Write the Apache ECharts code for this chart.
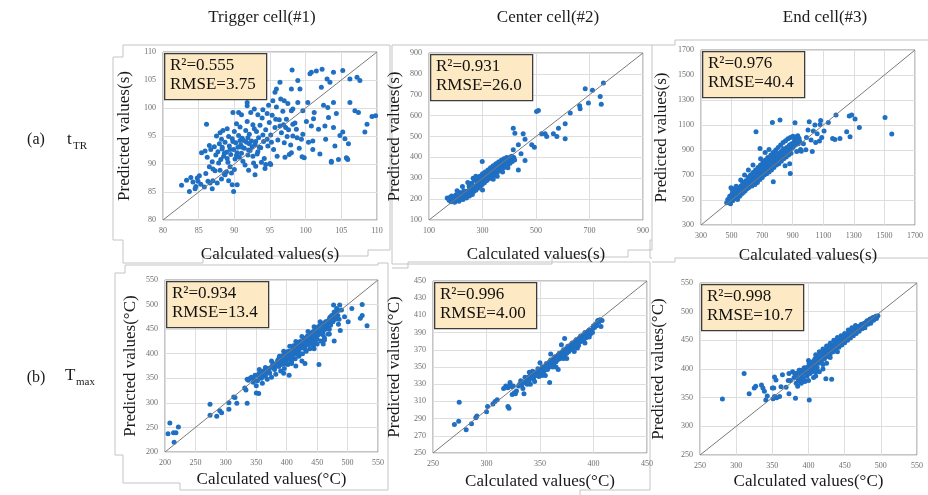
<!DOCTYPE html>
<html><head><meta charset="utf-8">
<script src="https://cdn.jsdelivr.net/npm/echarts@6/dist/echarts.min.js"></script>
<style>html,body{margin:0;padding:0;background:#fff}#c{width:928px;height:495px}</style>
</head><body><div id="c"></div>
<script>
const colTitles = ['Trigger cell(#1)', 'Center cell(#2)', 'End cell(#3)'];
const xNames = ['Calculated values(s)', 'Calculated values(s)', 'Calculated values(s)', 'Calculated values(°C)', 'Calculated values(°C)', 'Calculated values(°C)'];
const yNames = ['Predicted values(s)', 'Predicted values(s)', 'Predicted values(s)', 'Predicted values(°C)', 'Predicted values(°C)', 'Predicted values(°C)'];
const axMin = [80, 100, 300, 200, 250, 250];
const axMax = [110, 900, 1700, 550, 450, 550];
const xStep = [5, 200, 200, 50, 50, 50];
const yStep = [5, 100, 200, 50, 20, 50];
const r2 = ['0.555', '0.931', '0.976', '0.934', '0.996', '0.998'];
const rmse = ['3.75', '26.0', '40.4', '13.4', '4.00', '10.7'];

// Trigger cell, t_TR
const p1 = [[82.6,86.2],[83.3,87.1],[83.7,85.1],[84.6,86.0],[84.8,87.5],[86.1,97.1],[86.6,86.6],[85.4,92.0],[88.7,88.4],[88.7,88.1],[89.9,85.1],[89.7,86.3],[90.4,86.3],[89.8,99.2],[90.6,99.2],[91.8,100.4],[92.8,99.8],[91.8,101.0],[92.9,88.1],[94.4,89.9],[95.1,89.9],[95.7,102.8],[95.9,103.4],[96.4,104.6],[98.1,106.8],[98.0,103.4],[98.9,104.9],[99.2,103.4],[100.6,106.1],[100.8,106.4],[101.5,106.6],[102.3,106.9],[103.9,106.4],[105.2,106.7],[102.2,103.7],[103.0,105.2],[103.4,104.6],[106.2,105.2],[107.2,105.5],[107.6,104.9],[103.9,101.0],[106.2,101.0],[106.9,99.5],[107.4,99.2],[109.3,98.5],[109.8,98.6],[108.6,97.1],[108.3,95.7],[103.1,100.1],[101.1,98.1],[100.8,96.8],[102.7,96.8],[103.9,96.5],[105.2,95.7],[105.5,94.5],[104.1,93.2],[102.8,94.4],[101.0,94.1],[101.0,92.6],[99.8,91.1],[97.7,91.7],[103.6,90.3],[104.6,90.8],[105.7,91.1],[105.9,90.8],[99.4,94.4],[98.7,96.2],[98.2,97.1],[97.2,96.5],[99.6,99.5],[100.3,101.0],[98.9,101.0],[98.0,99.5],[98.2,99.8],[97.0,101.3],
[83.9,87.6],[84.2,86.8],[84.5,85.6],[84.9,86.9],[85.3,86.4],[85.8,85.9],[85.1,87.9],[86.0,88.3],[86.3,86.9],[86.9,85.6],[86.5,89.5],[87.0,87.0],[87.3,88.8],[87.6,86.6],[88.2,87.3],[88.0,88.9],[88.6,88.2],[88.9,88.6],[89.2,87.0],[89.6,88.4],
[85.9,92.3],[86.2,91.2],[86.7,92.6],[86.9,90.4],[87.2,93.1],[87.4,91.6],[87.7,92.2],[87.9,93.6],[88.1,90.8],[88.3,92.7],[88.5,91.4],[88.7,93.9],[88.9,92.1],[89.1,90.3],[89.3,93.2],[89.5,91.7],[89.7,94.5],[89.9,92.6],[90.1,90.9],[90.2,93.8],[90.4,92.0],[90.6,95.1],[90.7,91.2],[90.9,93.4],[91.1,94.6],[91.2,90.5],[91.4,92.8],[91.6,96.0],[91.7,93.9],[91.9,91.6],[92.1,95.3],[92.2,92.4],[92.4,94.1],[92.6,97.0],[92.7,90.2],[92.9,93.5],[93.1,95.8],[93.2,91.8],[93.4,94.7],[93.6,96.9],[93.7,92.9],[93.9,98.2],[94.1,94.0],[94.2,91.0],[94.4,96.1],[94.6,99.0],[94.7,93.2],[94.9,97.4],[95.1,95.2],[95.3,98.7],[95.5,92.6],[95.7,96.5],[95.9,100.2],[96.1,94.3],[96.3,97.9],[96.6,95.6],[96.8,99.4],[97.0,93.8],[97.3,98.0],[97.6,96.1],[97.9,93.4],[98.2,95.0],[98.5,97.3],[98.8,94.7],[99.1,92.8],[99.6,95.3],[100.1,97.6],[100.4,93.9],[101.2,99.2],[101.8,96.2],[102.5,100.5],[103.2,98.3],[104.3,99.0],[104.8,95.1],[106.0,93.6],[105.8,91.0],[103.6,90.5],[102.0,91.8],[99.5,91.3],[98.0,92.0],
[86.5,93.3],[87.0,89.1],[88.0,95.6],[88.4,96.0],[89.0,96.3],[89.4,89.5],[90.0,89.0],[90.3,97.2],[90.8,96.6],[91.0,98.8],[91.5,89.8],[91.8,97.6],[92.0,88.9],[92.3,99.2],[92.8,96.3],[93.0,89.6],[93.3,98.8],[93.8,90.3],[94.0,99.7],[94.3,89.2],[94.8,100.5],[95.0,90.1],[95.4,101.3],[96.0,91.4],[96.5,101.6],[97.1,91.2],[97.5,100.8],[89.8,94.0],[91.3,94.2],[92.5,93.1],[93.5,93.0],[90.5,93.0],[91.0,91.9],[92.0,92.5],[89.0,91.0],[88.2,94.4],[87.5,95.0],[90.0,95.8],
[87.8,90.2],[88.6,91.9],[89.4,92.6],[90.3,91.5],[91.1,93.0],[91.9,94.7],[92.6,91.4],[93.3,92.2],[94.0,95.2],[94.6,94.4],[95.2,93.9],[95.8,98.0],[96.4,96.8],[96.9,97.0],[97.4,94.9],[88.3,93.0],[89.2,94.9],[90.8,94.2],[92.1,93.6],[93.0,94.0]];

// Center cell, t_TR
const p2 = [[168,205],[175,195],[180,210],[182,188],[186,200],[190,192],[193,205],[196,185],[200,198],[203,210],[206,195],[210,204],[212,190],[215,215],[218,200],[221,222],[224,208],[227,198],[230,218],[232,230],[235,212],[238,224],[240,205],[243,238],[246,220],[248,232],[251,215],[254,245],[256,228],[259,240],[262,222],[264,252],[267,236],[270,248],[272,262],[275,242],[278,258],[280,270],[283,252],[286,266],[288,280],[291,262],[294,275],[296,290],[299,270],[302,284],[304,298],[307,278],[310,292],[312,305],[315,288],[318,300],[320,312],[323,296],[326,310],[328,322],[331,304],[334,318],[336,330],[339,312],[342,326],[344,338],[347,320],[350,334],[352,345],[355,328],[358,342],[360,352],[363,336],[366,350],[368,360],[371,344],[374,356],[376,368],[379,350],[382,364],[384,375],[387,358],[390,372],[392,382],[395,366],[398,378],[400,390],[403,372],[406,386],[408,396],[411,380],[414,392],[417,400],[420,388],
[185,215],[200,220],[215,232],[230,240],[250,262],[260,276],[270,290],[280,300],[290,310],[300,322],[310,330],[320,340],[330,350],[340,360],[350,370],[360,378],[370,386],[380,394],[390,400],[250,230],[265,255],[285,285],[305,305],[325,330],[345,345],[365,365],[385,385],[205,240],[225,260],[245,280],[265,300],[275,310],[340,295],[355,310],[375,330],[395,350],
[192,198],[208,212],[222,215],[236,232],[252,250],[268,262],[282,278],[297,296],[313,318],[327,333],[341,348],[357,360],[372,375],[388,392],[404,402],[198,205],[257,262],[317,322],[378,382],[410,405],
[300,244],[299,380],[415,436],[434,460],[444,417],[459,385],[434,340],[415,540],[421,516],[452,513],[459,487],[484,460],[494,449],[502,620],[509,625],[521,513],[534,513],[540,500],[565,513],[578,500],[584,540],[609,561],[609,489],[628,612],[663,647],[665,633],[684,729],[696,660],[711,721],[740,692],[744,655],[752,756]];

// End cell, t_TR
const p3 = [[468,478],[475,505],[482,492],[488,530],[493,470],[498,522],[503,548],[507,495],[512,528],[517,590],[521,510],[526,560],[531,535],[536,575],[539,505],[544,550],[549,598],[553,530],[557,570],[561,612],[565,548],[569,585],[573,640],[577,560],[581,600],[585,628],[589,575],[593,655],[597,610],[601,590],[605,642],[609,680],[613,600],[617,660],[621,625],[625,700],[629,645],[633,612],[637,682],[641,720],[645,650],[649,690],[653,625],[657,740],[661,668],[665,705],[669,640],[673,760],[677,690],[681,725],[685,665],[689,780],[693,710],[697,745],[701,680],[705,800],[709,730],[713,700],[717,770],[721,820],[725,745],[729,710],[733,790],[737,840],[741,760],[745,725],[749,810],[753,775],[757,860],[761,740],[765,830],[769,795],[773,880],[777,760],[781,845],[785,810],[789,900],[793,780],[797,860],[801,825],[805,920],[809,790],[813,875],[817,840],[821,940],[825,810],[829,890],[833,855],[837,960],[841,830],[845,905],[849,870],[853,975],[857,845],[861,920],[865,885],[869,990],[873,860],[877,935],[881,900],[885,1000],[889,875],[893,950],[897,915],[901,1010],[905,930],[909,965],[913,985],[917,945],[921,1005],[925,960],[929,980],[933,1015],[937,950],[941,995],[946,970],[951,905],[956,890],
[880,790],[850,775],[690,830],[720,880],[745,905],[640,780],[610,740],[585,700],[560,660],[530,610],[505,580],[640,700],[700,760],[760,820],[820,880],[880,940],[680,700],[600,620],[550,560],[620,690],[660,735],[720,800],[780,860],[840,910],[795,870],[735,815],[675,750],[615,680],
[884,713],[773,647],[496,599],[660,1047],[686,913],[767,1121],[817,1140],[915,1119],[926,889],[986,903],[1008,1127],[1028,889],[1035,1052],[1045,1100],[1075,972],[1079,1105],[1083,1137],[1105,1052],[1133,1121],[1161,993],[1176,985],[1183,1180],[1209,993],[1253,1047],[1270,1172],[1275,1007],[1286,1180],[1308,1148],[1336,1081],[1504,1161],[1548,1028],[1000,1060],[1020,980],[1050,960],[1060,1030],[990,1000],[970,950],[1090,1000]];

// Trigger cell, T_max
const p4 = [[340,350],[345,342],[348,356],[352,345],[355,360],[358,350],[360,340],[362,365],[365,355],[368,348],[370,370],[372,360],[375,352],[377,378],[380,368],[382,358],[385,385],[387,374],[390,365],[392,392],[394,380],[396,370],[398,400],[400,388],[402,378],[404,405],[406,395],[408,384],[410,412],[412,400],[414,390],[416,418],[418,406],[420,395],[422,425],[424,412],[426,400],[428,430],[430,418],[432,405],[434,436],[436,424],[438,410],[440,442],[442,430],[444,416],[446,448],[448,435],[450,420],[452,455],[454,440],[456,426],[458,460],[460,446],[462,432],[464,465],[466,452],[468,440],[470,470],[472,458],[474,478],[476,465],[478,485],[480,470],[482,492],[484,478],[486,470],
[388,395],[395,405],[405,415],[415,425],[425,435],[435,445],[445,455],[455,465],[365,372],[375,385],[355,368],[400,380],[410,392],[420,402],[430,410],[440,420],[450,430],[460,438],[470,450],[378,380],[385,378],[392,386],[402,398],[412,408],[422,418],[432,428],[442,438],[452,448],[462,458],[472,465],[350,335],[360,352],[370,362],[380,372],[390,382],[400,395],[410,405],[420,412],[430,422],[440,432],[450,442],[460,452],[468,460],
[342,352],[346,348],[351,356],[356,352],[359,362],[363,358],[367,366],[371,364],[374,372],[378,374],[381,378],[384,376],[386,388],[389,386],[391,378],[393,396],[397,392],[399,384],[401,404],[403,392],[407,402],[409,396],[411,416],[413,406],[417,412],[419,422],[421,410],[423,420],[427,424],[429,414],[431,432],[433,422],[437,432],[439,426],[441,436],[443,444],[445,430],[447,440],[449,452],[451,438],[453,446],[455,458],[457,444],[459,452],[461,462],[463,450],[465,458],[467,466],[469,458],[471,474],[473,464],[475,470],[477,478],[479,476],[481,484],[483,474],[485,488],[446,425],[436,418],[426,412],[416,400],[406,388],[396,380],
[208,259],[205,237],[214,239],[222,251],[215,220],[218,239],[274,297],[274,275],[285,273],[290,284],[293,280],[305,300],[313,312],[315,311],[318,299],[305,287],[335,299],[333,326],[331,330],[350,320],[354,319],[335,348],[337,346],[404,356],[453,378],[408,380],[430,380],[448,421],[462,428],[478,426],[488,447],[507,492],[524,500],[532,457],[524,478],[521,472],[501,465],[487,499],[477,499],[490,489],[495,475],[485,460],[470,440],[460,420],[445,410],[425,385],[415,375],[395,360]];

// Center cell, T_max
const p5 = [[330,328],[332,334],[334,325],[336,338],[338,330],[340,335],[342,342],[344,336],[346,340],[348,348],[350,342],[352,350],[354,346],[356,354],[358,350],[360,358],[362,355],[364,362],[366,358],[368,366],[370,362],[372,370],[374,366],[376,374],[378,370],[380,378],[382,375],[384,382],[386,379],[388,386],[390,383],[392,390],[394,387],[396,393],[398,391],[400,397],[402,400],[404,404],[406,405],
[341,330],[345,333],[349,339],[353,343],[357,347],[361,352],[365,356],[369,360],[373,364],[377,368],[381,372],[385,376],[389,380],[393,384],[397,388],[335,332],[339,338],[343,345],[347,344],[351,347],[355,351],[359,356],[363,360],[367,364],[371,368],[375,372],[379,376],[383,380],[387,384],[391,387],[395,391],[399,394],[325,328],[322,330],[320,326],[328,322],[355,340],[365,350],[375,360],[385,372],[370,376],[360,365],[350,355],[340,344],
[331,330],[333,329],[337,335],[339,332],[341,340],[343,338],[345,344],[347,340],[349,346],[351,344],[353,348],[355,347],[357,352],[359,350],[361,356],[363,354],[365,360],[367,359],[369,364],[371,363],[373,368],[375,366],[377,372],[379,371],[381,376],[383,374],[385,380],[387,379],[389,384],[391,383],[393,388],[395,387],[397,392],[399,390],[401,396],[403,398],[405,402],[372,360],[382,368],[392,378],[362,350],[352,340],[386,375],[396,385],
[274.5,309],[270,283],[274,287],[281,277],[286,284],[290,291],[291,293],[300,298],[301,304],[306,307],[308,310],[310,312],[320,304],[321,302],[316,325],[324,318],[326,320],[327,319],[335,319],[359,332],[367,347],[391,382],[407,397],[408,404],[404,403],[400,398],[373,383],[322,332],[324,327],[318,328]];

// End cell, T_max
const p6 = [[380,385],[383,392],[386,380],[388,398],[390,390],[392,385],[394,402],[396,395],[398,388],[400,405],[402,398],[404,410],[406,400],[408,415],[410,405],[412,418],[414,410],[416,422],[418,414],[420,426],[422,418],[424,430],[426,422],[428,434],[430,426],[432,438],[434,430],[436,442],[438,434],[440,446],[442,438],[444,450],[446,442],[448,454],[450,446],[452,458],[454,450],[456,462],[458,454],[460,465],[462,458],[464,470],[466,462],[468,472],[470,466],[472,476],[474,470],[476,478],[478,472],[480,482],[482,478],[484,485],[486,480],[488,488],[490,485],[492,490],[494,488],[496,493],
[415,430],[425,440],[435,450],[445,458],[455,468],[465,476],[455,455],[445,445],[435,435],[425,425],[405,395],[395,380],[410,395],[420,408],[430,420],[440,430],[400,380],[390,375],[385,370],[375,380],[378,395],[395,378],[407,385],[410,388],[415,395],[420,400],[425,410],[412,402],[402,392],
[381,392],[384,386],[387,394],[389,382],[391,398],[393,392],[397,402],[399,396],[401,410],[403,402],[405,412],[407,406],[409,418],[411,410],[413,422],[415,414],[417,426],[419,418],[421,430],[423,422],[425,434],[427,428],[429,438],[431,430],[433,442],[435,436],[437,446],[439,440],[441,450],[443,444],[445,452],[447,448],[449,458],[451,452],[453,460],[455,456],[457,466],[459,460],[461,468],[463,464],[465,472],[467,468],[469,474],[471,472],[473,478],[475,474],[477,480],[479,478],[481,484],[483,482],[485,487],[487,485],[489,490],[491,488],[493,492],[440,455],[430,445],[420,435],[410,425],[400,415],[450,462],[460,472],
[281,347.5],[311,392],[318,357],[325,367],[327,370],[335,372],[337,367],[339,361],[341,346],[343,353],[350,367],[353,386],[355,381],[352,367],[353,352],[356,350],[351,348],[360,352],[362,369],[369,368],[372,380],[373,357],[382,349],[401,346],[432,382],[424,383],[364,390],[373,392],[387,398],[390,378],[383,375]];

const panels = [p1, p2, p3, p4, p5, p6];

// layout (pixels)
const gridPos = [[163,52,214,168],[429,53,214,167],[701,50,214,175],[165,280,213,172],[433,281,214,172],[700,283,217,172]];
const xGap = [26,26,22,19,20,18];
const yGap = [30,26,31,26,30,33];
const SERIF = '"Liberation Serif","Times New Roman",serif';

const grids = [], xAxes = [], yAxes = [], series = [], graphics = [];
panels.forEach((pts, i) => {
  const g = gridPos[i];
  grids.push({left: g[0], top: g[1], width: g[2], height: g[3], show: true, borderColor: '#8c8c8c', borderWidth: 1, backgroundColor: 'transparent'});
  const common = {
    gridIndex: i, type: 'value', min: axMin[i], max: axMax[i],
    axisLine: {show: false}, axisTick: {show: false},
    splitLine: {show: true, lineStyle: {color: '#dedede', width: 1}},
    axisLabel: {fontFamily: SERIF, fontSize: 8, color: '#6e6e6e', margin: 7, showMinLabel: true, showMaxLabel: true, formatter: v => String(v)},
    nameLocation: 'middle', nameTextStyle: {fontFamily: SERIF, fontSize: 17, color: '#1a1a1a'}
  };
  xAxes.push(Object.assign({}, common, {interval: xStep[i], name: xNames[i], nameGap: xGap[i]}));
  yAxes.push(Object.assign({}, common, {interval: yStep[i], name: yNames[i], nameGap: yGap[i]}));
  series.push({type: 'scatter', xAxisIndex: i, yAxisIndex: i, data: pts, symbolSize: 5, itemStyle: {color: '#1f6fc3', opacity: 1}, silent: true, z: 2});
  series.push({type: 'line', xAxisIndex: i, yAxisIndex: i, data: [[axMin[i], axMin[i]], [axMax[i], axMax[i]]], symbol: 'none', lineStyle: {color: '#7a7a7a', width: 1}, silent: true, z: 3});
  // annotation box
  graphics.push({type: 'rect', left: g[0] + 1, top: g[1] + 1, shape: {width: 102, height: 46}, style: {fill: '#fde9c3', stroke: '#3c3c3c', lineWidth: 1.3}, z: 10});
  graphics.push({type: 'text', left: g[0] + 7, top: g[1] + 5, style: {text: 'R²=' + r2[i], font: '17px ' + SERIF, fill: '#111'}, z: 11});
  graphics.push({type: 'text', left: g[0] + 7, top: g[1] + 24, style: {text: 'RMSE=' + rmse[i], font: '17px ' + SERIF, fill: '#111'}, z: 11});
});

// column titles
const colX = [262, 548, 825];
colTitles.forEach((t, i) => {
  graphics.push({type: 'text', x: colX[i], y: 18, style: {text: t, font: '17px ' + SERIF, fill: '#1a1a1a', align: 'center', verticalAlign: 'middle'}});
});
// row labels
graphics.push({type: 'text', x: 36, y: 140, style: {text: '(a)', font: '16px ' + SERIF, fill: '#1a1a1a', align: 'center', verticalAlign: 'middle'}});
graphics.push({type: 'text', x: 67, y: 140, style: {text: 't', font: '17px ' + SERIF, fill: '#1a1a1a', verticalAlign: 'middle'}});
graphics.push({type: 'text', x: 73, y: 146, style: {text: 'TR', font: '11px ' + SERIF, fill: '#1a1a1a', verticalAlign: 'middle'}});
graphics.push({type: 'text', x: 36, y: 378, style: {text: '(b)', font: '16px ' + SERIF, fill: '#1a1a1a', align: 'center', verticalAlign: 'middle'}});
graphics.push({type: 'text', x: 65, y: 376, style: {text: 'T', font: '17px ' + SERIF, fill: '#1a1a1a', verticalAlign: 'middle'}});
graphics.push({type: 'text', x: 76, y: 382, style: {text: 'max', font: '11px ' + SERIF, fill: '#1a1a1a', verticalAlign: 'middle'}});

// decorative panel frames (light gray outlines of the composite figure)
const frames = [
  [[113,57],[123,57],[123,45],[390,45],[390,250],[368,250],[368,256],[203,256],[203,263],[123,263],[123,240],[113,240],[113,57]],
  [[392,45],[652,45],[652,250],[628,250],[628,257],[552,257],[552,264],[392,264],[392,45]],
  [[652,45],[675,45],[675,40],[928,40]],
  [[652,258],[650,258],[650,240],[652,240]],
  [[115,273],[125,273],[125,265],[378,265],[378,263],[388,263],[388,490],[180,490],[180,483],[123,483],[123,455],[115,455],[115,273]],
  [[392,268],[408,268],[408,262],[650,262],[650,490],[580,490],[580,495]],
  [[652,262],[675,262],[675,258],[928,258]]
];
frames.forEach(f => graphics.push({type: 'polyline', shape: {points: f}, style: {fill: null, stroke: '#c4c4c4', lineWidth: 1}, z: 0, silent: true}));

const chart = echarts.init(document.getElementById('c'), null, {renderer: 'canvas'});
chart.setOption({
  animation: false,
  backgroundColor: '#fff',
  grid: grids, xAxis: xAxes, yAxis: yAxes, series: series, graphic: graphics
});
</script></body></html>
